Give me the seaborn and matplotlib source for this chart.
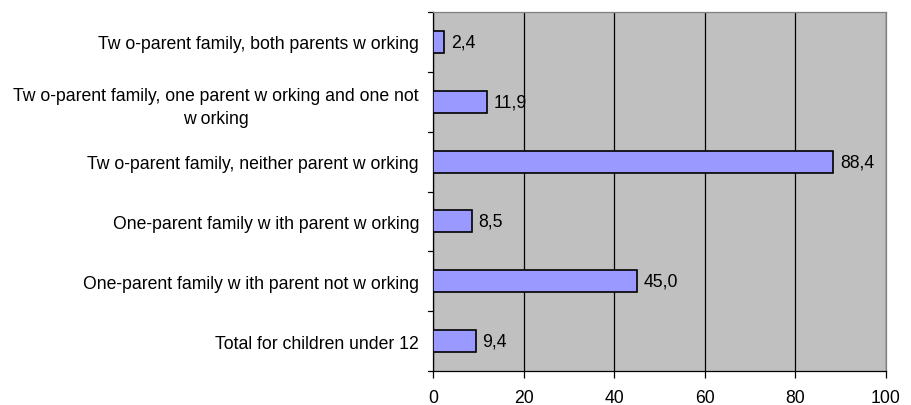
import matplotlib
matplotlib.use("Agg")
import matplotlib.pyplot as plt
import seaborn as sns
import pandas as pd

categories = [
    "Tw o-parent family, both parents w orking",
    "Tw o-parent family, one parent w orking and one not\nw orking",
    "Tw o-parent family, neither parent w orking",
    "One-parent family w ith parent w orking",
    "One-parent family w ith parent not w orking",
    "Total for children under 12",
]
values = [2.4, 11.9, 88.4, 8.5, 45.0, 9.4]
x_ticks = [0, 20, 40, 60, 80, 100]

df = pd.DataFrame({"category": categories, "value": values})

sns.set_theme(style="white")
plt.rcParams["font.family"] = ["Liberation Sans", "DejaVu Sans"]

FS = 12.7

fig = plt.figure(figsize=(9.11, 4.06), dpi=100)
ax = fig.add_axes([433 / 911, 1 - 372 / 406, (886 - 433) / 911, (372 - 13) / 406])
ax.set_facecolor("#C0C0C0")

sns.barplot(data=df, x="value", y="category", orient="h", color="#9999FF",
            edgecolor="black", linewidth=1.2, width=0.37, saturation=1, ax=ax, zorder=3)

ax.set_xlim(0, 100)
ax.set_ylim(len(categories) - 0.5, -0.5)
ax.set_xticks(x_ticks)
ax.set_xticklabels([str(t) for t in x_ticks], fontsize=FS)
ax.xaxis.grid(True, color="black", linewidth=0.9, zorder=1)
ax.set_axisbelow(True)
ax.set_xlabel("")
ax.set_ylabel("")

ax.set_yticks(range(len(categories)))
ax.set_yticklabels(categories, fontsize=FS, multialignment="center", color="black",
                   linespacing=1.45)
ax.tick_params(axis="y", length=0, pad=10)
ax.tick_params(axis="x", length=5, width=0.9, color="black", direction="out", pad=8,
               labelcolor="black")
ax.xaxis.set_ticks_position("bottom")

# boundary ticks on the y axis
for b in [i - 0.5 for i in range(len(categories) + 1)]:
    ax.plot([-0.011, 0], [b, b], transform=ax.get_yaxis_transform(), color="black",
            linewidth=0.9, clip_on=False)

for s in ["left", "bottom"]:
    ax.spines[s].set_color("black")
    ax.spines[s].set_linewidth(0.9)
for s in ["top", "right"]:
    ax.spines[s].set_color("#808080")
    ax.spines[s].set_linewidth(0.9)

for i, v in enumerate(values):
    ax.text(v + 1.5, i, f"{v:.1f}".replace(".", ","), va="center", ha="left",
            fontsize=FS, color="black", zorder=4)

fig.savefig("out.png", dpi=100, facecolor="white")
